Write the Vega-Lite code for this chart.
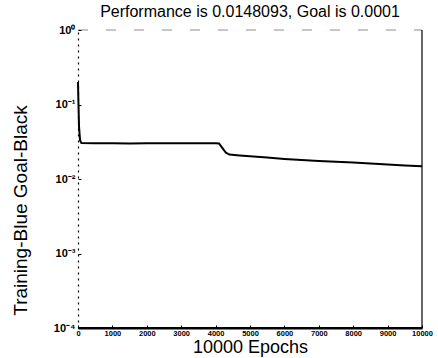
{
  "$schema": "https://vega.github.io/schema/vega-lite/v6.json",
  "width": 344,
  "height": 298,
  "autosize": {"type": "none"},
  "padding": {"left": 78, "top": 30, "right": 16, "bottom": 30},
  "background": "white",
  "config": {
    "view": {"stroke": null},
    "font": "Liberation Sans"
  },
  "title": {
    "text": "Performance is 0.0148093, Goal is 0.0001",
    "fontSize": 16,
    "fontWeight": "normal",
    "color": "black",
    "offset": 4,
    "anchor": "middle"
  },
  "datasets": {
    "training": [
      {"epoch": 0, "perf": 0.2},
      {"epoch": 10, "perf": 0.12},
      {"epoch": 30, "perf": 0.05},
      {"epoch": 60, "perf": 0.033},
      {"epoch": 100, "perf": 0.0305},
      {"epoch": 500, "perf": 0.0301},
      {"epoch": 1000, "perf": 0.0302},
      {"epoch": 1500, "perf": 0.0300},
      {"epoch": 2000, "perf": 0.0301},
      {"epoch": 2500, "perf": 0.0302},
      {"epoch": 3000, "perf": 0.0301},
      {"epoch": 3500, "perf": 0.0301},
      {"epoch": 4000, "perf": 0.0302},
      {"epoch": 4100, "perf": 0.0300},
      {"epoch": 4200, "perf": 0.026},
      {"epoch": 4300, "perf": 0.0225},
      {"epoch": 4400, "perf": 0.0213},
      {"epoch": 4700, "perf": 0.0207},
      {"epoch": 5000, "perf": 0.0202},
      {"epoch": 5500, "perf": 0.0194},
      {"epoch": 6000, "perf": 0.0186},
      {"epoch": 6500, "perf": 0.0180},
      {"epoch": 7000, "perf": 0.0175},
      {"epoch": 7500, "perf": 0.0170},
      {"epoch": 8000, "perf": 0.0166},
      {"epoch": 8500, "perf": 0.0161},
      {"epoch": 9000, "perf": 0.0157},
      {"epoch": 9500, "perf": 0.0152},
      {"epoch": 10000, "perf": 0.0148}
    ],
    "goal": [
      {"epoch": 0, "perf": 0.0001},
      {"epoch": 10000, "perf": 0.0001}
    ],
    "topEdge": [
      {"epoch": 0, "perf": 1},
      {"epoch": 10000, "perf": 1}
    ],
    "rightEdge": [
      {"epoch": 10000, "perf": 0.0001},
      {"epoch": 10000, "perf": 1}
    ]
  },
  "encoding": {
    "x": {
      "field": "epoch",
      "type": "quantitative",
      "scale": {"domain": [0, 10000], "nice": false},
      "axis": {
        "title": "10000 Epochs",
        "titleFontSize": 18,
        "titleFontWeight": "normal",
        "titleColor": "black",
        "titlePadding": 2,
        "values": [0, 1000, 2000, 3000, 4000, 5000, 6000, 7000, 8000, 9000, 10000],
        "format": "d",
        "labelOverlap": false,
        "labelFontSize": 7.5,
        "labelFontWeight": "bold",
        "labelColor": "black",
        "labelPadding": 4,
        "labelFlush": false,
        "tickSize": -3,
        "tickColor": "black",
        "domainColor": "black",
        "domainWidth": 2,
        "grid": false
      }
    },
    "y": {
      "field": "perf",
      "type": "quantitative",
      "scale": {"type": "log", "domain": [0.0001, 1], "nice": false},
      "axis": {
        "title": "Training-Blue  Goal-Black",
        "titleFontSize": 19,
        "titleFontWeight": "normal",
        "titleColor": "black",
        "titleX": -58,
        "titleY": 180,
        "titleBaseline": "middle",
        "values": [0.0001, 0.001, 0.01, 0.1, 1],
        "labelExpr": "datum.value >= 0.5 ? '10⁰' : datum.value >= 0.05 ? '10⁻¹' : datum.value >= 0.005 ? '10⁻²' : datum.value >= 0.0005 ? '10⁻³' : '10⁻⁴'",
        "labelOverlap": false,
        "labelFontSize": 11,
        "labelFontWeight": "bold",
        "labelColor": "black",
        "labelPadding": 6,
        "tickSize": -3,
        "tickColor": "black",
        "domainColor": "black",
        "domainDash": [2, 4],
        "domainWidth": 1.2,
        "grid": false
      }
    }
  },
  "layer": [
    {
      "data": {"name": "topEdge"},
      "mark": {"type": "line", "color": "black", "strokeWidth": 1, "strokeDash": [10, 18], "opacity": 0.45}
    },
    {
      "data": {"name": "rightEdge"},
      "mark": {"type": "line", "color": "black", "strokeWidth": 1.2}
    },
    {
      "data": {"name": "goal"},
      "mark": {"type": "line", "color": "black", "strokeWidth": 2}
    },
    {
      "data": {"name": "training"},
      "mark": {"type": "line", "color": "black", "strokeWidth": 2}
    }
  ]
}
